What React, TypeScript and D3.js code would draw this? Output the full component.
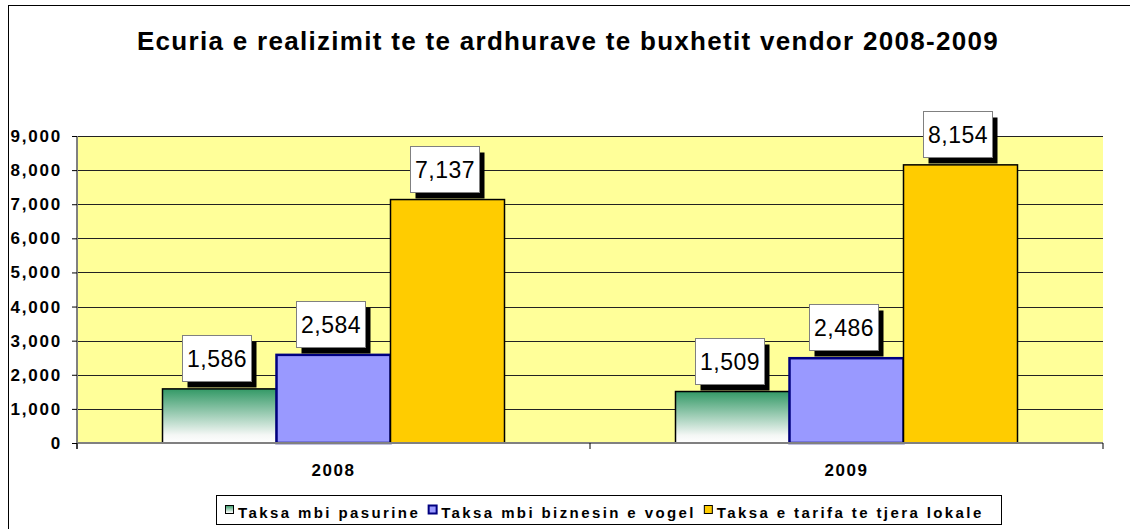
import React, { useEffect, useRef } from 'react';
import * as d3 from 'd3';

// data
const years = ['2008', '2009'];
const seriesNames = ['Taksa mbi pasurine', 'Taksa mbi biznesin e vogel', 'Taksa e tarifa te tjera lokale'];
const pasurine = [1586, 1509];
const biznesVogel = [2584, 2486];
const tarifaLokale = [7137, 8154];
const yTickValues = [0, 1000, 2000, 3000, 4000, 5000, 6000, 7000, 8000, 9000];

const titleText = 'Ecuria e realizimit te te ardhurave te buxhetit vendor 2008-2009';
const FONT = '"Liberation Sans", Arial, Helvetica, sans-serif';

export default function App() {
    const svgRef = useRef<SVGSVGElement>(null);

    useEffect(() => {
        document.body.style.margin = '0';
        const svg = d3.select(svgRef.current);
        svg.selectAll('*').remove();

        const plot = { left: 77, right: 1103, top: 136, bottom: 443 };

        const series = [
            { name: seriesNames[0], values: pasurine, fill: 'url(#gradGreen)', stroke: '#000', sw: 1.5 },
            { name: seriesNames[1], values: biznesVogel, fill: '#9999FF', stroke: '#000080', sw: 2.5 },
            { name: seriesNames[2], values: tarifaLokale, fill: '#FFCC00', stroke: '#000', sw: 1.5 },
        ];

        const defs = svg.append('defs');
        const grad = defs.append('linearGradient').attr('id', 'gradGreen')
            .attr('x1', 0).attr('y1', 0).attr('x2', 0).attr('y2', 1);
        grad.append('stop').attr('offset', '0%').attr('stop-color', '#339966');
        grad.append('stop').attr('offset', '85%').attr('stop-color', '#f4f7f5');
        grad.append('stop').attr('offset', '100%').attr('stop-color', '#ffffff');

        // outer frame (runs off the right / bottom edge)
        svg.append('rect')
            .attr('x', 8.5).attr('y', 5.5).attr('width', 1140).attr('height', 540)
            .attr('fill', '#fff').attr('stroke', '#000').attr('stroke-width', 1);

        // title
        svg.append('text')
            .attr('x', 568).attr('y', 50)
            .attr('text-anchor', 'middle')
            .style('font-family', FONT).style('font-weight', 'bold').style('font-size', '26px')
            .style('letter-spacing', '1.3px')
            .text(titleText);

        const x = d3.scaleBand().domain(years).range([plot.left, plot.right]);
        const xInner = d3.scaleBand().domain(seriesNames).range([0, x.bandwidth()])
            .paddingInner(0).paddingOuter(0.75);
        const y = d3.scaleLinear().domain([0, 9000]).range([plot.bottom, plot.top]);

        // plot background
        svg.append('rect')
            .attr('x', plot.left).attr('y', plot.top)
            .attr('width', plot.right - plot.left).attr('height', plot.bottom - plot.top)
            .attr('fill', '#FFFF99');

        // gridlines
        svg.append('g').selectAll('line')
            .data(yTickValues.filter(v => v > 0))
            .enter().append('line')
            .attr('x1', plot.left).attr('x2', plot.right)
            .attr('y1', d => Math.round(y(d)) + 0.5).attr('y2', d => Math.round(y(d)) + 0.5)
            .attr('stroke', '#222').attr('stroke-width', 1);

        // y axis
        const yAxis = svg.append('g')
            .attr('transform', `translate(${plot.left},0)`)
            .call(d3.axisLeft(y).tickValues(yTickValues).tickFormat(d3.format(',')).tickSize(5).tickPadding(10));
        yAxis.select('.domain').attr('stroke', '#808080').attr('stroke-width', 2).attr('d', `M0,${plot.top}V${plot.bottom + 6}`);
        yAxis.selectAll('.tick line').attr('stroke', '#000');
        yAxis.selectAll('.tick text')
            .attr('fill', '#000')
            .style('font-family', FONT).style('font-weight', 'bold').style('font-size', '17px')
            .style('letter-spacing', '1.8px');

        // bars
        const barG = svg.append('g');
        series.forEach(s => {
            barG.append('g').selectAll('rect')
                .data(years.map((yr, i) => ({ yr, v: s.values[i] })))
                .enter().append('rect')
                .attr('x', d => (x(d.yr) as number) + (xInner(s.name) as number))
                .attr('y', d => y(d.v))
                .attr('width', xInner.bandwidth())
                .attr('height', d => y(0) - y(d.v))
                .attr('fill', s.fill)
                .attr('stroke', s.stroke)
                .attr('stroke-width', s.sw);
        });

        // bottom axis
        const xAxis = svg.append('g')
            .attr('transform', `translate(0,${plot.bottom})`)
            .call(d3.axisBottom(x).tickSize(0).tickPadding(21));
        xAxis.select('.domain').attr('stroke', '#808080').attr('stroke-width', 2)
            .attr('d', `M${plot.left},0H${plot.right}`);
        xAxis.selectAll('.tick text')
            .attr('fill', '#000')
            .style('font-family', FONT).style('font-weight', 'bold').style('font-size', '17px')
            .style('letter-spacing', '1.5px');
        svg.append('g').selectAll('line')
            .data([plot.left, ...years.map(yr => (x(yr) as number) + x.bandwidth())])
            .enter().append('line')
            .attr('x1', d => d).attr('x2', d => d)
            .attr('y1', plot.bottom).attr('y2', plot.bottom + 6)
            .attr('stroke', '#000').attr('stroke-width', 1);

        // data labels
        const boxW = 69, boxH = 46;
        const labelG = svg.append('g');
        series.forEach(s => {
            years.forEach((yr, i) => {
                const v = s.values[i];
                const cx = (x(yr) as number) + (xInner(s.name) as number) + xInner.bandwidth() / 2 - 3;
                const bottom = y(v) - 8;
                const bx = Math.round(cx - boxW / 2) + 0.5;
                const by = Math.round(bottom - boxH) + 0.5;
                const g = labelG.append('g');
                g.append('rect').attr('x', bx + 5).attr('y', by + 6)
                    .attr('width', boxW).attr('height', boxH).attr('fill', '#000');
                g.append('rect').attr('x', bx).attr('y', by)
                    .attr('width', boxW).attr('height', boxH)
                    .attr('fill', '#fff').attr('stroke', '#808080').attr('stroke-width', 1);
                g.append('text')
                    .attr('x', bx + boxW / 2).attr('y', by + boxH / 2 + 8.5)
                    .attr('text-anchor', 'middle')
                    .style('font-family', FONT).style('font-size', '23px')
                    .style('letter-spacing', '0.5px')
                    .text(d3.format(',')(v));
            });
        });

        // legend
        const legendTop = 495, legendBottom = 524;
        const legendLeft = 216, legendRight = 1001;
        const legend = svg.append('g');
        legend.append('rect')
            .attr('x', legendLeft + 0.5).attr('y', legendTop + 0.5)
            .attr('width', legendRight - legendLeft).attr('height', legendBottom - legendTop)
            .attr('fill', '#fff').attr('stroke', '#000').attr('stroke-width', 1);
        let cursor = 225;
        series.forEach(s => {
            legend.append('rect')
                .attr('x', cursor + 0.5).attr('y', 505.5).attr('width', 8).attr('height', 8)
                .attr('fill', s.fill).attr('stroke', s.stroke).attr('stroke-width', s.sw === 2.5 ? 2 : 1);
            const t = legend.append('text')
                .attr('x', cursor + 13).attr('y', 518)
                .style('font-family', FONT).style('font-weight', 'bold').style('font-size', '15px')
                .style('letter-spacing', '2.4px')
                .text(s.name);
            cursor = cursor + 13 + (t.node() as SVGTextElement).getComputedTextLength() + 8;
        });
    }, []);

    return <svg ref={svgRef} width={1130} height={529} style={{ display: 'block', background: '#fff' }} />;
}
